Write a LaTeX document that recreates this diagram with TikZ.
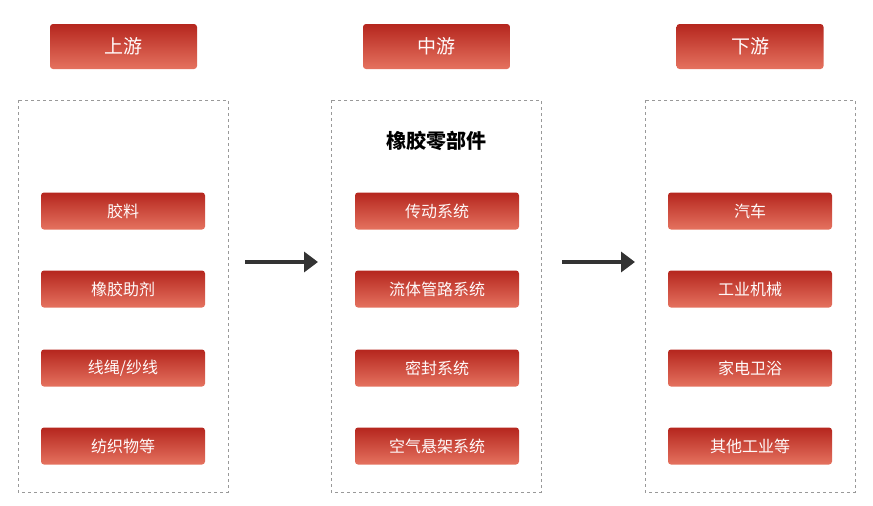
\documentclass[tikz,border=0pt]{standalone}
\usepackage{fontspec}
\newfontfamily\cjk{Noto Sans CJK SC}
\usetikzlibrary{arrows.meta}
\definecolor{rtop}{HTML}{B5261E}
\definecolor{rbot}{HTML}{E5725F}
\tikzset{
 hdr/.style={rounded corners=3pt,top color=rtop,bottom color=rbot,draw=none,minimum width=147pt,minimum height=45pt,text=white!92!pink,font=\cjk\fontsize{19}{19}\selectfont,inner sep=0pt},
 item/.style={rounded corners=3pt,top color=rtop,bottom color=rbot,draw=none,minimum width=164pt,minimum height=37pt,text=white!92!pink,font=\cjk\fontsize{16}{16}\selectfont,inner sep=0pt},
 frame/.style={draw=gray!80,dashed,line width=0.8pt},
 arr/.style={draw=black!80,line width=4pt,-{Triangle[length=14pt,width=20pt]}}
}
\begin{document}
\begin{tikzpicture}[x=1pt,y=-1pt]
\useasboundingbox (0,0) rectangle (873,506);
\draw[frame] (18,100) rectangle (228,492);
\draw[frame] (331,100) rectangle (541,492);
\draw[frame] (645,100) rectangle (855,492);
\node[hdr] (h1) at (123.5,46.5) {上游};
\node[hdr] (h2) at (436.5,46.5) {中游};
\node[hdr] (h3) at (750,46.5) {下游};
\node[font=\cjk\bfseries\fontsize{20}{20}\selectfont] (t) at (436,141) {橡胶零部件};
\node[item] (a1) at (123,211) {胶料};
\node[item] (a2) at (123,289) {橡胶助剂};
\node[item] (a3) at (123,368) {线绳/纱线};
\node[item] (a4) at (123,446) {纺织物等};
\node[item] (b1) at (437,211) {传动系统};
\node[item] (b2) at (437,289) {流体管路系统};
\node[item] (b3) at (437,368) {密封系统};
\node[item] (b4) at (437,446) {空气悬架系统};
\node[item] (c1) at (750,211) {汽车};
\node[item] (c2) at (750,289) {工业机械};
\node[item] (c3) at (750,368) {家电卫浴};
\node[item] (c4) at (750,446) {其他工业等};
\coordinate (p1) at (245,262); \coordinate (q1) at (318,262);
\coordinate (p2) at (562,262); \coordinate (q2) at (635,262);
\draw[arr] (p1) -- (q1);
\draw[arr] (p2) -- (q2);
\end{tikzpicture}
\end{document}
